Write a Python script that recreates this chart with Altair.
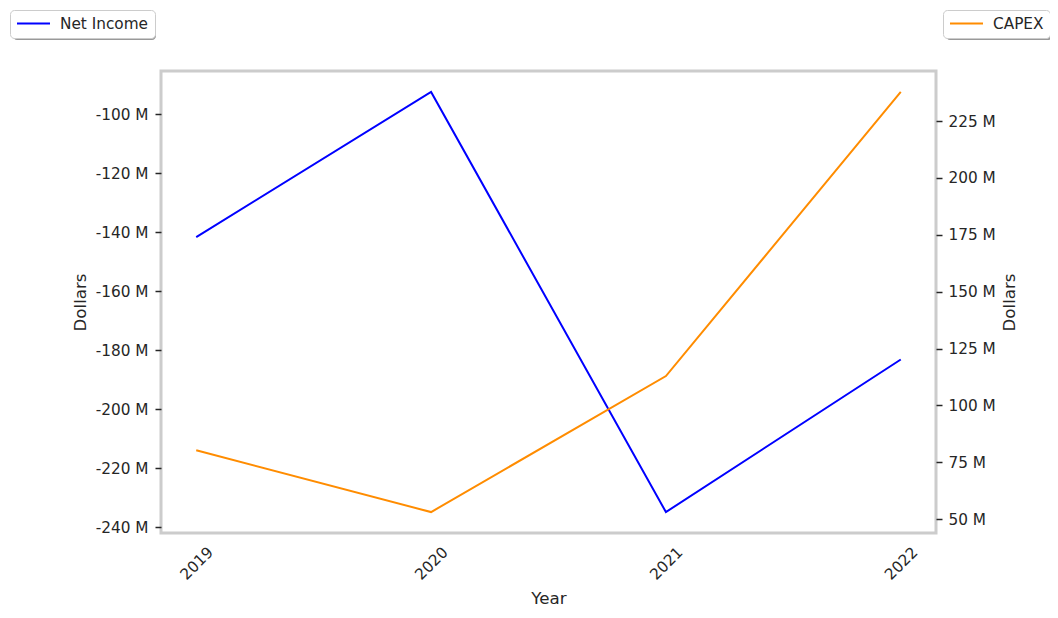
import altair as alt
import pandas as pd

years = [2019, 2020, 2021, 2022]
net_income = [-141.7e6, -92.5e6, -234.9e6, -183.2e6]
capex = [80.3e6, 53.1e6, 112.9e6, 237.8e6]

left_ticks = [-240e6, -220e6, -200e6, -180e6, -160e6, -140e6, -120e6, -100e6]
right_ticks = [50e6, 75e6, 100e6, 125e6, 150e6, 175e6, 200e6, 225e6]

ni_df = pd.DataFrame({"Year": years, "value": net_income, "series": "Net Income"})
cx_df = pd.DataFrame({"Year": years, "value": capex, "series": "CAPEX"})

FONT = "DejaVu Sans"
TXT = "#262626"

x_enc = alt.X(
    "Year:Q",
    scale=alt.Scale(domain=[2018.85, 2022.15], nice=False, zero=False),
    axis=alt.Axis(
        values=years, format="d", labelAngle=-45, labelAlign="center",
        labelBaseline="middle", labelPadding=30, ticks=False, tickSize=0,
        domain=False, grid=False, title="Year", titlePadding=8,
        labelFontSize=15.3, titleFontSize=16.7, labelColor=TXT, titleColor=TXT,
        titleFontWeight="normal",
    ),
)

LABEL_EXPR = "(datum.value / 1000000) + ' M'"

def legend(x, y):
    return alt.Legend(
        title=None, orient="none", legendX=x, legendY=y,
        symbolType="stroke", symbolSize=1089, symbolStrokeWidth=2,
        clipHeight=15, labelFontSize=15.3, labelColor=TXT, labelOffset=9,
        padding=6, fillColor="white", strokeColor="#cccccc",
        cornerRadius=4,
    )

ni_line = alt.Chart(ni_df).mark_line(strokeWidth=2, color="#0000ff").encode(
    x=x_enc,
    y=alt.Y(
        "value:Q",
        scale=alt.Scale(domain=[-242.0e6, -85.4e6], nice=False, zero=False),
        axis=alt.Axis(
            orient="left", values=left_ticks, labelExpr=LABEL_EXPR,
            grid=False, domain=False, ticks=True, tickSize=6, tickWidth=1.5,
            tickColor=TXT, labelPadding=7, title="Dollars", titlePadding=6,
            labelFontSize=15.3, titleFontSize=16.7, labelColor=TXT,
            titleColor=TXT, titleFontWeight="normal",
        ),
    ),
    color=alt.Color(
        "series:N",
        scale=alt.Scale(domain=["Net Income"], range=["#0000ff"]),
        legend=legend(-151, -61),
    ),
)

cx_line = alt.Chart(cx_df).mark_line(strokeWidth=2, color="#ff8c00").encode(
    x=x_enc,
    y=alt.Y(
        "value:Q",
        scale=alt.Scale(domain=[43.9e6, 247.0e6], nice=False, zero=False),
        axis=alt.Axis(
            orient="right", values=right_ticks, labelExpr=LABEL_EXPR,
            grid=False, domain=False, ticks=True, tickSize=6, tickWidth=1.5,
            tickColor=TXT, labelPadding=6, title="Dollars", titlePadding=6,
            titleAngle=270, titleBaseline="top",
            labelFontSize=15.3, titleFontSize=16.7, labelColor=TXT,
            titleColor=TXT, titleFontWeight="normal",
        ),
    ),
    color=alt.Color(
        "series:N",
        scale=alt.Scale(domain=["CAPEX"], range=["#ff8c00"]),
        legend=legend(782, -61),
    ),
)

one = pd.DataFrame({"k": [0]})
shadow_left = alt.Chart(one).mark_rect(color="#999999", cornerRadius=4).encode(
    x=alt.value(-148), x2=alt.value(-5), y=alt.value(-58), y2=alt.value(-31)
)
shadow_right = alt.Chart(one).mark_rect(color="#999999", cornerRadius=4).encode(
    x=alt.value(785), x2=alt.value(892), y=alt.value(-58), y2=alt.value(-31)
)

chart = (
    alt.layer(shadow_left, shadow_right, ni_line, cx_line)
    .resolve_scale(y="independent", color="independent")
    .properties(
        width=775, height=462,
        autosize=alt.AutoSizeParams(type="none"),
        padding={"left": 153, "top": 63, "right": 114, "bottom": 77},
        view=alt.ViewBackground(stroke="#cccccc", strokeWidth=3),
    )
    .configure_view(stroke="#cccccc", strokeWidth=3)
    .configure(font=FONT)
)

chart.save("out.html", embed_options={"renderer": "svg", "actions": False})
